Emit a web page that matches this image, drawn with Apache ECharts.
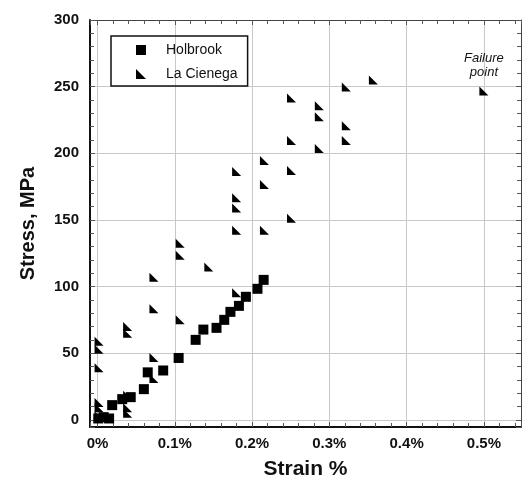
<!DOCTYPE html>
<html>
<head>
<meta charset="utf-8">
<script src="https://cdn.jsdelivr.net/npm/echarts@6/dist/echarts.min.js"></script>
<style>
html,body{margin:0;padding:0;background:#fff;}
#chart{width:522px;height:485px;}
</style>
</head>
<body>
<div id="chart"></div>
<script>
// Holbrook (squares)
var holbrookStrain = [0.001, 0.008, 0.015, 0.019, 0.032, 0.043, 0.060, 0.065, 0.085, 0.105, 0.127, 0.137, 0.154, 0.164, 0.172, 0.183, 0.192, 0.207, 0.215];
var holbrookStress = [1, 2, 1, 11, 15.5, 17, 23, 35.6, 37, 46.4, 60, 67.7, 69, 75, 81, 85.5, 92.3, 98.3, 105];
// La Cienega (triangles)
var cienegaStrain = [0.002, 0.002, 0.002, 0.002, 0.002, 0.002,
  0.039, 0.039, 0.039, 0.039, 0.039,
  0.073, 0.073, 0.073, 0.073,
  0.107, 0.107, 0.107,
  0.144,
  0.180, 0.180, 0.180, 0.180, 0.180,
  0.216, 0.216, 0.216,
  0.251, 0.251, 0.251, 0.251,
  0.287, 0.287, 0.287,
  0.322, 0.322, 0.322,
  0.357];
var cienegaStress = [3, 9, 13, 39, 53, 59,
  5, 9, 18.5, 65, 70,
  31, 46.8, 83.4, 107,
  75, 123.5, 132.5,
  114.7,
  95.3, 142.3, 159, 166.6, 186.3,
  142.3, 176.5, 194.5,
  151.3, 187, 209.5, 241.5,
  203.5, 227.4, 235.6,
  209.5, 220.7, 249.7,
  255];
var failureStrain = 0.5;
var failureStress = 246.8;
var failureLabel = 'Failure\npoint';

var seriesNames = ['Holbrook', 'La Cienega'];
var xTitle = 'Strain %';
var yTitle = 'Stress, MPa';
var xMin = -0.0097, xMax = 0.548;
var yMin = -5.4, yMax = 300;

var FONT = '"Liberation Sans", Arial, Helvetica, sans-serif';
var TRI = 'path://M0,0L0,10L10,10Z';
var SQ = 'path://M0,0L10,0L10,10L0,10Z';

function zip(a, b) { return a.map(function (v, i) { return [v, b[i]]; }); }

var cienegaData = zip(cienegaStrain, cienegaStress);
cienegaData.push({
  value: [failureStrain, failureStress],
  label: {
    show: true, position: 'top', distance: 7,
    formatter: failureLabel, fontStyle: 'italic', fontSize: 13,
    fontFamily: FONT, color: '#111', lineHeight: 14, align: 'center'
  }
});

var chart = echarts.init(document.getElementById('chart'), null, {renderer: 'canvas'});

function baseAxis(extra) {
  var o = {
    type: 'value',
    splitNumber: 5,
    axisLine: {show: true, onZero: false, lineStyle: {color: '#111', width: 2}},
    axisTick: {show: true, inside: true, length: 5, lineStyle: {color: '#555', width: 1}},
    minorTick: {show: true, splitNumber: 5, length: 4, lineStyle: {color: '#555', width: 1}},
    splitLine: {show: false},
    minorSplitLine: {show: false},
    axisLabel: {show: false}
  };
  for (var k in extra) o[k] = extra[k];
  return o;
}

var option = {
  backgroundColor: '#fff',
  animation: false,
  textStyle: {fontFamily: FONT},
  grid: {left: 90, right: 1, top: 20, bottom: 56, containLabel: false},
  legend: {
    orient: 'vertical',
    left: 111, top: 36,
    padding: [7, 10, 5, 25],
    itemWidth: 40, itemHeight: 10, itemGap: 10,
    borderColor: '#111', borderWidth: 1.5, borderRadius: 0,
    textStyle: {fontSize: 14, color: '#111', fontFamily: FONT, padding: [0, 0, 0, 0]},
    data: [{name: seriesNames[0], icon: SQ}, {name: seriesNames[1], icon: TRI}]
  },
  xAxis: [
    baseAxis({
      position: 'bottom', min: xMin, max: xMax, splitNumber: 5,
      name: xTitle, nameLocation: 'middle', nameGap: 32,
      nameTextStyle: {fontSize: 21, fontWeight: 'bold', color: '#111', fontFamily: FONT},
      splitLine: {show: true, lineStyle: {color: '#c8c8c8', width: 1}},
      axisLabel: {
        show: true, margin: 9, fontSize: 15, fontWeight: 'bold', color: '#111', fontFamily: FONT,
        showMinLabel: false, showMaxLabel: false,
        formatter: function (v) { return (Math.round(v * 10) / 10) + '%'; }
      }
    }),
    baseAxis({
      position: 'top', min: xMin, max: xMax, splitNumber: 5,
      axisLine: {show: true, onZero: false, lineStyle: {color: '#444', width: 1}}
    })
  ],
  yAxis: [
    baseAxis({
      position: 'left', min: yMin, max: yMax, splitNumber: 6,
      name: yTitle, nameLocation: 'middle', nameGap: 52,
      nameTextStyle: {fontSize: 20, fontWeight: 'bold', color: '#111', fontFamily: FONT},
      splitLine: {show: true, lineStyle: {color: '#c8c8c8', width: 1}},
      axisLabel: {
        show: true, margin: 11, fontSize: 15, fontWeight: 'bold', color: '#111', fontFamily: FONT,
        showMinLabel: false
      }
    }),
    baseAxis({
      position: 'right', min: yMin, max: yMax, splitNumber: 6,
      axisLine: {show: true, onZero: false, lineStyle: {color: '#444', width: 1}}
    })
  ],
  series: [
    {
      name: seriesNames[0], type: 'scatter', xAxisIndex: 0, yAxisIndex: 0,
      symbol: SQ, symbolSize: 10,
      itemStyle: {color: '#000', opacity: 1},
      data: zip(holbrookStrain, holbrookStress),
      z: 3
    },
    {
      name: seriesNames[1], type: 'scatter', xAxisIndex: 0, yAxisIndex: 0,
      symbol: TRI, symbolSize: 9,
      itemStyle: {color: '#000', opacity: 1},
      data: cienegaData,
      z: 4
    }
  ]
};
chart.setOption(option);
</script>
</body>
</html>
